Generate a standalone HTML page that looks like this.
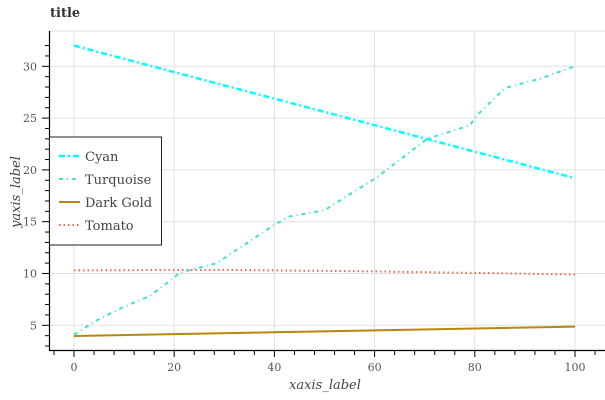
<!DOCTYPE html>
<html><head><meta charset="utf-8"><style>
body{margin:0;background:#fff}
svg{display:block;font-family:"DejaVu Serif","Liberation Serif",serif}
</style></head><body>
<svg id="c" width="605" height="400" viewBox="0 0 605 400">
<text x="50" y="17" font-size="13" font-weight="bold" fill="#333">title</text>
<g id="grid"></g><g id="axes"></g><g id="series"></g>
<text x="325" y="389" font-size="13" font-style="italic" fill="#444" text-anchor="middle">xaxis_label</text>
<text transform="translate(20,192) rotate(-90)" font-size="13" font-style="italic" fill="#444" text-anchor="middle">yaxis_label</text>
<g>
<rect x="49.5" y="137" width="112" height="108" fill="#fff" stroke="#222" stroke-width="1"/>
<g><line x1="59" y1="156" x2="80" y2="156" stroke="#00ffff" stroke-width="2.5" stroke-dasharray="6,3,2,3"/><text x="85" y="161" font-size="13" fill="#444">Cyan</text></g>
<g><line x1="59" y1="179" x2="80" y2="179" stroke="#40e0d0" stroke-width="2" stroke-dasharray="4,4,1,4"/><text x="85" y="184" font-size="13" fill="#444">Turquoise</text></g>
<g><line x1="59" y1="202" x2="80" y2="202" stroke="#b8860b" stroke-width="2"/><text x="85" y="207" font-size="13" fill="#444">Dark Gold</text></g>
<g><line x1="59" y1="225" x2="80" y2="225" stroke="#ff6347" stroke-width="2" stroke-dasharray="1.5,3"/><text x="85" y="230" font-size="13" fill="#444">Tomato</text></g>
</g>
</svg>
<script>
const xTicks=[0,20,40,60,80,100];
const yTicks=[5,10,15,20,25,30];
const cyanX=[0,100];
const cyanY=[32.0,19.2];
const turqX=[0,5,10,15,20,21,28.5,40,43,50,60.5,70.5,79,80.5,86,93,100];
const turqY=[4.1,5.6,6.8,7.8,9.6,10.05,11.0,14.7,15.5,16.1,19.3,23.0,24.3,25.3,27.9,28.8,30.0];
const goldX=[0,100];
const goldY=[3.97,4.87];
const tomX=[0,30,60,100];
const tomY=[10.3,10.35,10.2,9.9];
const X=v=>74+5.01*v, Y=v=>325.3-(v-5)*10.36;
const NS="http://www.w3.org/2000/svg";
function mk(t,a,p){const e=document.createElementNS(NS,t);for(const k in a)e.setAttribute(k,a[k]);p.appendChild(e);return e;}
const grid=document.getElementById('grid'),axes=document.getElementById('axes'),ser=document.getElementById('series');
mk('line',{x1:49.5,y1:31,x2:605,y2:31,stroke:'#e0e0e0'},grid);
xTicks.forEach(t=>{const g=mk('line',{x1:X(t),y1:31,x2:X(t),y2:350,stroke:'#e0e0e0'},grid);


const tx=mk('text',{x:X(t),y:371,'font-size':11,fill:'#555','text-anchor':'middle'},axes);tx.textContent=t;

});
yTicks.forEach(t=>{const g=mk('line',{x1:49.5,y1:Y(t),x2:605,y2:Y(t),stroke:'#e0e0e0'},grid);


const tx=mk('text',{x:37,y:Y(t)+4,'font-size':11,fill:'#555','text-anchor':'end'},axes);tx.textContent=t;

});
const xa=mk('line',{x1:49.5,y1:350.5,x2:605,y2:350.5,stroke:'#000','stroke-width':1.2},axes);


const ya=mk('line',{x1:49.5,y1:31,x2:49.5,y2:351,stroke:'#000','stroke-width':1.2},axes);


for(let v=-4;v<=104;v+=4){const maj=v%20===0;mk('line',{x1:X(v),y1:350,x2:X(v),y2:maj?357:355,stroke:'#000'},axes);}
for(let v=3;v<=32;v++){const maj=v%5===0;mk('line',{x1:49.5,y1:Y(v),x2:maj?42:45,y2:Y(v),stroke:'#000'},axes);}
function series(xs,ys,col,w,dash,name){const d=xs.map((x,i)=>(i?'L':'M')+X(x).toFixed(1)+','+Y(ys[i]).toFixed(1)).join('');
const p=mk('path',{d:d,fill:'none',stroke:col,'stroke-width':w,'stroke-dasharray':dash},ser);

}
series(goldX,goldY,'#b8860b',2,'none','dark-gold-line');
series(tomX,tomY,'#ff6347',2,'1.5,3','tomato-line');
series(turqX,turqY,'#40e0d0',2,'4,4,1,4','turquoise-line');
series(cyanX,cyanY,'#00ffff',2.5,'6,3,2,3','cyan-line');
</script>
</body></html>
